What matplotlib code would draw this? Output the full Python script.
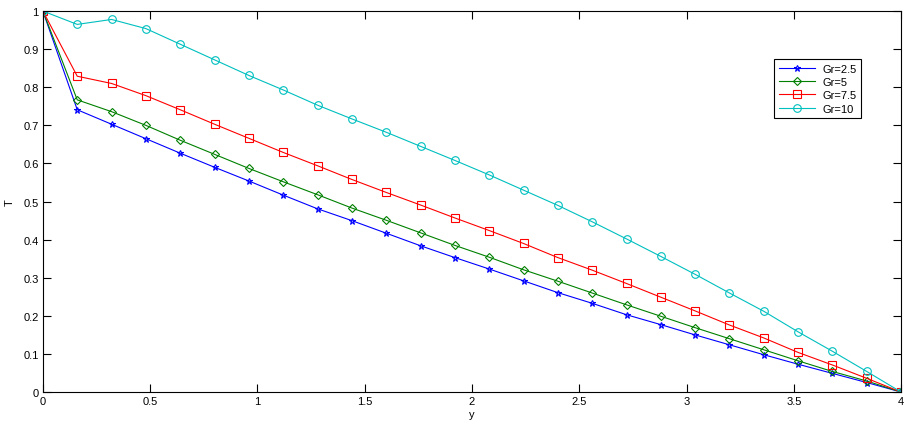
import matplotlib
matplotlib.use('Agg')
import matplotlib.pyplot as plt
from matplotlib.ticker import FuncFormatter

# y positions (26 points, step 0.16)
y_pos = [0.0, 0.16, 0.32, 0.48, 0.64, 0.80, 0.96, 1.12, 1.28, 1.44, 1.60, 1.76, 1.92,
         2.08, 2.24, 2.40, 2.56, 2.72, 2.88, 3.04, 3.20, 3.36, 3.52, 3.68, 3.84, 4.0]

T_gr25 = [1.0, 0.741, 0.703, 0.665, 0.627, 0.590, 0.554, 0.517, 0.481, 0.450, 0.417,
          0.384, 0.353, 0.323, 0.292, 0.261, 0.233, 0.203, 0.177, 0.150, 0.124, 0.098,
          0.073, 0.049, 0.025, 0.0]
T_gr5 = [1.0, 0.767, 0.736, 0.700, 0.661, 0.624, 0.587, 0.552, 0.518, 0.483, 0.451,
         0.418, 0.385, 0.354, 0.321, 0.291, 0.260, 0.229, 0.199, 0.169, 0.140, 0.111,
         0.082, 0.054, 0.029, 0.0]
T_gr75 = [1.0, 0.829, 0.810, 0.778, 0.741, 0.703, 0.666, 0.629, 0.594, 0.558, 0.524,
          0.491, 0.457, 0.424, 0.390, 0.353, 0.320, 0.285, 0.249, 0.213, 0.176, 0.142,
          0.104, 0.071, 0.036, 0.0]
T_gr10 = [1.0, 0.965, 0.978, 0.954, 0.913, 0.872, 0.831, 0.793, 0.753, 0.717, 0.682,
          0.645, 0.608, 0.570, 0.530, 0.490, 0.447, 0.402, 0.356, 0.309, 0.260, 0.212,
          0.158, 0.107, 0.054, 0.0]

labels = ['Gr=2.5', 'Gr=5', 'Gr=7.5', 'Gr=10']

plt.rcParams['font.family'] = ['Liberation Sans', 'DejaVu Sans']
plt.rcParams['font.size'] = 8

fig = plt.figure(figsize=(9.13, 4.31), dpi=100)
ax = fig.add_axes([0.047, 0.088, 0.94, 0.884])

ax.plot(y_pos, T_gr25, color='#0000ff', lw=0.8, marker='*', ms=5, mfc='none', mew=0.8, label=labels[0])
ax.plot(y_pos, T_gr5, color='#008000', lw=0.8, marker='D', ms=4.2, mfc='none', mew=0.8, label=labels[1])
ax.plot(y_pos, T_gr75, color='#ff0000', lw=0.8, marker='s', ms=5.5, mfc='none', mew=0.8, label=labels[2])
ax.plot(y_pos, T_gr10, color='#00bfbf', lw=0.8, marker='o', ms=5.5, mfc='none', mew=0.8, label=labels[3])

ax.set_xlim(0, 4)
ax.set_ylim(0, 1)
ax.set_xticks([0, 0.5, 1, 1.5, 2, 2.5, 3, 3.5, 4])
ax.set_yticks([0, 0.1, 0.2, 0.3, 0.4, 0.5, 0.6, 0.7, 0.8, 0.9, 1])
fmt = FuncFormatter(lambda v, p: '%g' % v)
ax.xaxis.set_major_formatter(fmt)
ax.yaxis.set_major_formatter(fmt)
ax.tick_params(direction='in', top=True, right=True, length=6, width=0.8, pad=3)
for s in ax.spines.values():
    s.set_linewidth(0.8)

ax.set_xlabel('y', labelpad=2)
ax.set_ylabel('T', labelpad=6)

leg = ax.legend(loc='upper right', bbox_to_anchor=(0.953, 0.874), fancybox=False,
                edgecolor='black', framealpha=1, borderpad=0.4, handlelength=3.3,
                handletextpad=0.6, labelspacing=0.3, fontsize=8, borderaxespad=0)
leg.get_frame().set_linewidth(0.8)

fig.savefig('out.png', dpi=100)
